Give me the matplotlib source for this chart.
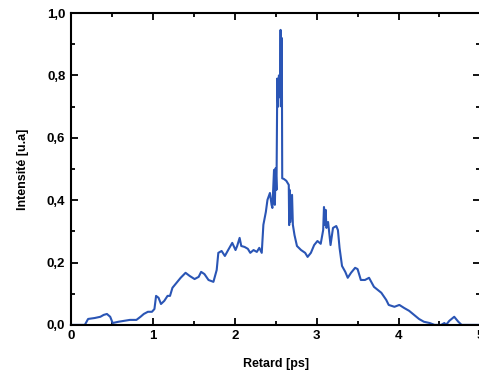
import matplotlib
matplotlib.use("Agg")
import matplotlib.pyplot as plt
from matplotlib.ticker import MultipleLocator, FuncFormatter

plt.rcParams['font.family'] = ['Liberation Sans', 'DejaVu Sans']

# delay (ps) and normalised intensity
retard = [0.00, 0.17, 0.21, 0.29, 0.36, 0.40, 0.44, 0.48, 0.51, 0.58,
          0.65, 0.72, 0.80, 0.85, 0.89, 0.94, 0.99, 1.02, 1.04, 1.07,
          1.10, 1.14, 1.18, 1.21, 1.24, 1.29, 1.34, 1.40, 1.45, 1.51,
          1.56, 1.59, 1.63, 1.68, 1.74, 1.78, 1.80, 1.84, 1.88, 1.92,
          1.97, 2.01, 2.03, 2.06, 2.08, 2.12, 2.16, 2.19, 2.23, 2.27,
          2.30, 2.33, 2.35, 2.38, 2.40, 2.43, 2.45, 2.46, 2.48, 2.49,
          2.50, 2.51, 2.52, 2.53, 2.54, 2.55, 2.56, 2.57, 2.575, 2.58,
          2.60, 2.63, 2.66, 2.665, 2.67, 2.68, 2.70, 2.71, 2.73, 2.76,
          2.81, 2.86, 2.89, 2.93, 2.97, 3.01, 3.05, 3.08, 3.09, 3.10,
          3.11, 3.12, 3.14, 3.16, 3.17, 3.20, 3.24, 3.26, 3.28, 3.31,
          3.35, 3.38, 3.42, 3.47, 3.50, 3.54, 3.59, 3.64, 3.70, 3.79,
          3.85, 3.88, 3.95, 4.01, 4.07, 4.13, 4.19, 4.25, 4.31, 4.38,
          4.44, 4.52, 4.56, 4.58, 4.62, 4.68, 4.73, 4.77, 5.00]
intensite = [0.000, 0.000, 0.019, 0.022, 0.026, 0.032, 0.035, 0.026, 0.006, 0.010,
             0.013, 0.016, 0.016, 0.026, 0.035, 0.042, 0.042, 0.051, 0.093, 0.087,
             0.067, 0.077, 0.093, 0.093, 0.119, 0.135, 0.151, 0.167, 0.157, 0.147,
             0.154, 0.170, 0.163, 0.144, 0.138, 0.176, 0.231, 0.237, 0.221, 0.240,
             0.263, 0.240, 0.253, 0.279, 0.253, 0.250, 0.244, 0.231, 0.240, 0.234,
             0.247, 0.231, 0.321, 0.362, 0.401, 0.423, 0.385, 0.375, 0.497, 0.385,
             0.503, 0.433, 0.790, 0.700, 0.800, 0.730, 0.946, 0.700, 0.920, 0.470,
             0.468, 0.462, 0.449, 0.320, 0.433, 0.330, 0.417, 0.321, 0.288, 0.253,
             0.240, 0.231, 0.218, 0.231, 0.256, 0.269, 0.260, 0.304, 0.378, 0.321,
             0.369, 0.311, 0.330, 0.279, 0.256, 0.311, 0.317, 0.304, 0.247, 0.189,
             0.170, 0.151, 0.167, 0.183, 0.179, 0.144, 0.144, 0.151, 0.122, 0.103,
             0.080, 0.064, 0.058, 0.064, 0.054, 0.045, 0.032, 0.019, 0.010, 0.006,
             0.000, 0.000, 0.006, 0.000, 0.013, 0.026, 0.010, 0.000, 0.000]

fig = plt.figure(figsize=(4.79, 3.73), dpi=100)
ax = fig.add_axes([0.148, 0.129, 0.855, 0.836])

ax.plot(retard, intensite, color='#2a55b5', linewidth=1.5, clip_on=False)

ax.set_xlim(0, 5)
ax.set_ylim(0, 1.0)
ax.xaxis.set_major_locator(MultipleLocator(1))
ax.xaxis.set_minor_locator(MultipleLocator(0.5))
ax.yaxis.set_major_locator(MultipleLocator(0.2))
ax.yaxis.set_minor_locator(MultipleLocator(0.1))
ax.yaxis.set_major_formatter(FuncFormatter(lambda v, p: f"{v:.1f}".replace('.', ',')))
ax.xaxis.set_major_formatter(FuncFormatter(lambda v, p: f"{v:.0f}"))

ax.tick_params(which='both', direction='in', top=True, right=True, width=1.3)
ax.tick_params(which='major', length=5, labelsize=9.5, pad=4)
ax.tick_params(which='minor', length=3)
for lab in ax.get_xticklabels() + ax.get_yticklabels():
    lab.set_fontweight('bold')

for sp in ax.spines.values():
    sp.set_linewidth(1.5)

ax.set_xlabel("Retard [ps]", fontsize=9, fontweight='bold', labelpad=11)
ax.set_ylabel("Intensité [u.a]", fontsize=9, fontweight='bold', labelpad=13)

fig.savefig("out.png", dpi=100)
